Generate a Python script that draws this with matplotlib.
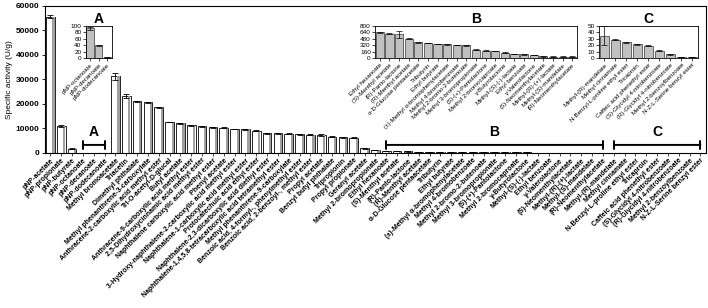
import matplotlib.pyplot as plt
import numpy as np

plt.rcParams['font.family'] = ['Liberation Sans', 'DejaVu Sans']

# substrates, in the order drawn on the main axis
group_a = ['pNP-acetate', 'pNP-propionate', 'pNP-butyrate', 'pNP-octanoate',
           'pNP-decanoate', 'pNP-dodecanoate', 'Methyl bromoacetate', 'Triacetin',
           'Dimethyl phthalate', 'Methyl phenanthrene-3-carboxylate',
           'Anthracene-2-carboxylic acid methyl ester', 'Tri-O-acetyl-D-glucal',
           'Butyl acetate', 'Anthracene-9-carboxylic acid methyl ester',
           '2,5-Dihydroxycinnamic acid methyl ester',
           'Naphthalene carboxylic acid methyl ester', 'Phenyl acetate',
           '3-Hydroxy-naphthalene-2-carboxylic acid methyl ester',
           'Naphthalene-1-carboxylic acid methyl ester',
           'Protocatechuic acid ethyl ester',
           'Naphthalene-2,3-dicarboxylic acid diethyl ester',
           'Naphthalene-1,4,5,8-tetracarboxylic acid tetramethyl ester',
           'Methyl phenanthrene-9-carboxylate',
           'Benzoic acid, 4-formyl-, phenylmethyl ester',
           'Benzoic acid, 2-benzoyl-, methyl ester', 'Propyl acetate',
           'Benzyl butyl phthalate', 'Tripropionin', 'Propyl propionate',
           'Geranyl acetate', 'Methyl 2-bromopropionate']
act_a = [55500, 10900, 1600, 93, 40, 3, 31200, 23200, 21000, 20600, 18500,
         12500, 12000, 11200, 10800, 10400, 10200, 9700, 9500, 9000, 8000,
         7900, 7800, 7500, 7300, 7300, 6500, 6300, 6200, 1800, 1100]
err_a = [600, 500, 200, 5, 2, 1, 1500, 800, 200, 200, 200, 150, 200, 150,
         150, 300, 300, 150, 200, 150, 150, 150, 150, 200, 150, 400, 150,
         150, 150, 100, 100]

group_b = ['Ethyl hexanoate', '(S)-Menthyl acetate', '(R)-Panto-lactone',
           '(R)-Menthyl acetate', 'α-D-Glucose pentaacetate', 'Tributyrin',
           'Ethyl butyrate', '(±)-Methyl α-bromophenylacetate',
           'Methyl 4-bromobenzoate', 'Methyl 2-bromo-2-butenoate',
           'Methyl 3-bromopropionate', '(S)-(+)-Pantolactone',
           'Methyl 2-bromocaproate', 'γ-Butyrolactone', 'Methyl-(S)-(-)-lactate',
           'Ethyl benzoate', 'γ-Valerolactone', '(S)-Neomenthylacetate',
           'Methyl-(R)-(+)-lactate', 'Methyl-(S)-mandelate',
           '(R)-Neomenthylacetate']
act_b = [640, 610, 590, 480, 390, 375, 355, 345, 330, 315, 210, 190, 185,
         140, 100, 95, 82, 45, 40, 35, 40]
err_b = [10, 10, 90, 8, 8, 8, 8, 6, 6, 6, 10, 5, 5, 5, 5, 5, 5, 5, 5, 10, 5]

group_c = ['Methyl-(R)-mandelate', 'Methyl cinnamate',
           'N-Benzyl-L-proline ethyl ester', 'Tricaproin',
           'Caffeic acid phenethyl ester', '(S)-Glycidyl 4-nitrobenzoate',
           '(R)-Glycidyl 4-nitrobenzoate', 'Methyl 2-benzoylbenzoate',
           'N-Z-L-Serine benzyl ester']
act_c = [35, 28.5, 25, 21.5, 19, 11.5, 6, 2, 1.5]
err_c = [15, 0.5, 0.8, 0.5, 0.8, 0.5, 0.8, 0.3, 0.3]

labels = group_a + group_b + group_c
activity = act_a + act_b + act_c
errors = err_a + err_b + err_c

fig = plt.figure(figsize=(7.08, 3.08), dpi=100)
ax = fig.add_axes([0.0636, 0.504, 0.9334, 0.478])

x = np.arange(len(labels))
ax.bar(x, activity, 0.8, color='white', edgecolor='black', linewidth=0.6,
       yerr=errors, capsize=2, error_kw=dict(elinewidth=0.6, capthick=0.6))
# grey shading on the right side of each bar
ax.bar(x + 0.28, activity, 0.2, color='#a0a0a0', linewidth=0)
ax.set_xlim(-0.5, len(labels) - 0.5)
ax.set_ylim(0, 60000)
ax.set_yticks(range(0, 60001, 10000))
ax.tick_params(axis='y', labelsize=6, length=2.5, width=0.6, pad=1.5)
ax.tick_params(axis='x', length=2, width=0.5, pad=1)
for lab in ax.get_yticklabels():
    lab.set_fontweight('bold')
ax.set_xticks(x)
ax.set_xticklabels(labels, rotation=45, ha='right', rotation_mode='anchor',
                   fontsize=5, fontweight='bold')
ax.set_ylabel('Specific activity (U/g)', fontsize=6, labelpad=2)
for sp in ax.spines.values():
    sp.set_linewidth(0.8)

# brackets marking the groups shown in the insets
n_a, n_b = len(group_a), len(group_b)
brackets = [('A', 3, 5), ('B', n_a, n_a + n_b - 1),
            ('C', n_a + n_b, len(labels) - 1)]
for name, x0, x1 in brackets:
    ax.annotate('', xy=(x0, 3200), xytext=(x1, 3200),
                arrowprops=dict(arrowstyle='|-|', lw=1.4, mutation_scale=3,
                                shrinkA=0, shrinkB=0))
    ax.text((x0 + x1) / 2, 8500, name, ha='center', va='center',
            fontsize=10, fontweight='bold')


def inset(rect, names, vals, errs, ticks, title):
    axi = fig.add_axes(rect)
    xi = np.arange(len(names))
    axi.bar(xi, vals, 0.85, color='#c0c0c0', edgecolor='#333333',
            linewidth=0.5, yerr=errs, capsize=2,
            error_kw=dict(elinewidth=0.5, capthick=0.5))
    axi.set_xlim(-0.5, len(names) - 0.5)
    axi.set_ylim(ticks[0], ticks[-1])
    axi.set_yticks(ticks)
    axi.set_xticks(xi)
    axi.set_xticklabels(names, rotation=45, ha='right',
                        rotation_mode='anchor', fontsize=4.4)
    axi.tick_params(axis='y', labelsize=4.6, length=2, width=0.5, pad=1)
    axi.tick_params(axis='x', length=2, width=0.5, pad=1)
    for sp in axi.spines.values():
        sp.set_linewidth(0.6)
    axi.set_title(title, fontsize=10, fontweight='bold', pad=2)
    return axi


inset([0.121, 0.811, 0.0367, 0.105], group_a[3:6], act_a[3:6], err_a[3:6],
      [0, 20, 40, 60, 80, 100], 'A')
inset([0.5297, 0.811, 0.2853, 0.105], group_b, act_b, err_b,
      [0, 160, 320, 480, 640, 800], 'B')
inset([0.846, 0.811, 0.1398, 0.105], group_c, act_c, err_c,
      [0, 10, 20, 30, 40, 50], 'C')

fig.savefig('out.png', dpi=100)
